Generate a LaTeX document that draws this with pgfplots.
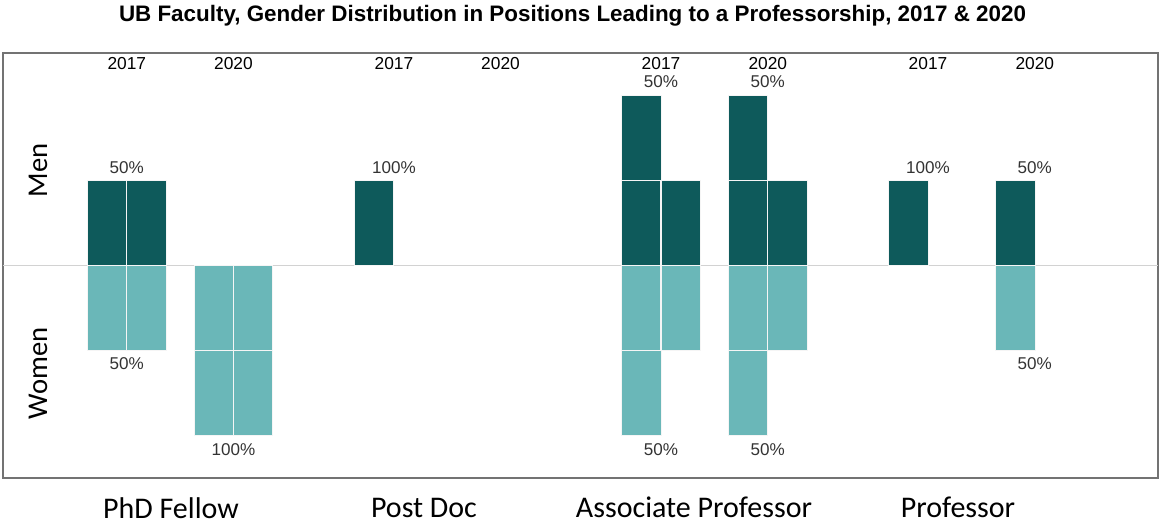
\documentclass[border=0pt]{standalone}
\usepackage{fontspec}
\setmainfont{Liberation Sans}
\newfontfamily\calibri{Carlito}
\usepackage{pgfplots}
\pgfplotsset{compat=1.18}
\definecolor{men}{HTML}{0E5A5B}
\definecolor{women}{HTML}{6AB7B8}
\definecolor{pct}{HTML}{333333}
\begin{document}
\begin{tikzpicture}[
  yr/.style={font=\fontsize{13pt}{15pt}\selectfont, text=black},
  pc/.style={font=\fontsize{12.8pt}{15pt}\selectfont, text=pct},
  cat/.style={font=\calibri\fontsize{21.5pt}{24pt}\selectfont, text=black},
  catb/.style={font=\calibri\fontsize{22.5pt}{25pt}\selectfont, text=black},
]
\path[use as bounding box] (-2.25pt,-35.25pt) rectangle (867.75pt,358.5pt);
\begin{axis}[at={(0,0)}, anchor=south west, scale only axis,
  width=866.25pt, height=318.75pt,
  xmin=3, xmax=1158, ymin=-2.5, ymax=2.5,
  xtick=\empty, ytick=\empty, clip=false,
  axis line style={draw=gray!90!black, line width=1.1pt},
  mybar/.style={ybar, bar width=39.3, bar shift=0pt, draw=white!92!gray, line width=0.8pt},
]
% baseline
\addplot[draw=gray!35, line width=1.1pt] coordinates {(3,0) (1158,0)};
% Men: two-row columns first, then one-row cells
\addplot[mybar, fill=men] coordinates {(641.4,2) (748.3,2)};
\addplot[mybar, fill=men] coordinates {(107.2,1) (146.5,1) (374.3,1) (641.4,1) (680.6,1) (748.3,1) (787.6,1) (908.4,1) (1015.4,1)};
% Women
\addplot[mybar, fill=women] coordinates {(213.8,-2) (253.2,-2) (641.4,-2) (748.3,-2)};
\addplot[mybar, fill=women] coordinates {(107.2,-1) (146.5,-1) (213.8,-1) (253.2,-1) (641.4,-1) (680.6,-1) (748.3,-1) (787.6,-1) (1015.4,-1)};
% year labels
\node[yr] at (axis cs:126.8,2.38) {2017};
\node[yr] at (axis cs:233.5,2.38) {2020};
\node[yr] at (axis cs:394,2.38) {2017};
\node[yr] at (axis cs:500.5,2.38) {2020};
\node[yr] at (axis cs:661,2.38) {2017};
\node[yr] at (axis cs:767.8,2.38) {2020};
\node[yr] at (axis cs:928,2.38) {2017};
\node[yr] at (axis cs:1034.8,2.38) {2020};
% percent labels
\node[pc] at (axis cs:126.8,1.153) {50\%};
\node[pc] at (axis cs:126.8,-1.153) {50\%};
\node[pc] at (axis cs:233.5,-2.165) {100\%};
\node[pc] at (axis cs:394,1.153) {100\%};
\node[pc] at (axis cs:661,2.165) {50\%};
\node[pc] at (axis cs:661,-2.165) {50\%};
\node[pc] at (axis cs:767.8,2.165) {50\%};
\node[pc] at (axis cs:767.8,-2.165) {50\%};
\node[pc] at (axis cs:928,1.153) {100\%};
\node[pc] at (axis cs:1034.8,1.153) {50\%};
\node[pc] at (axis cs:1034.8,-1.153) {50\%};
% row labels
\node[cat, rotate=90] at (axis cs:38,1.118) {Men};
\node[cat, rotate=90] at (axis cs:38,-1.27) {Women};
% category labels
\node[catb] at (axis cs:171,-2.85) {PhD Fellow};
\node[catb] at (axis cs:424,-2.85) {Post Doc};
\node[catb] at (axis cs:694,-2.85) {Associate Professor};
\node[catb] at (axis cs:958,-2.85) {Professor};
% title
\node[font=\bfseries\fontsize{16.8pt}{19pt}\selectfont] at (axis cs:572.5,2.94) {UB Faculty, Gender Distribution in Positions Leading to a Professorship, 2017 \& 2020};
\end{axis}
\end{tikzpicture}
\end{document}
